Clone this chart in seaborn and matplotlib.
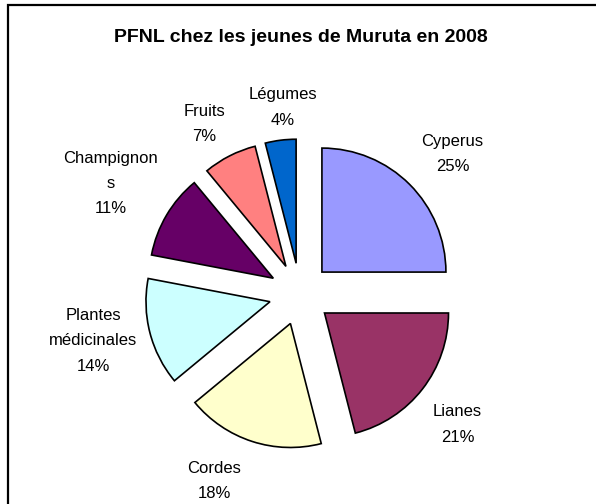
import matplotlib
matplotlib.use("Agg")
import matplotlib.pyplot as plt
from matplotlib.patches import Rectangle
import numpy as np
import seaborn as sns

# PFNL collected by young people in Muruta, 2008 (percent)
categories = ["Cyperus", "Lianes", "Cordes", "Plantes\nmédicinales",
              "Champignon\ns", "Fruits", "Légumes"]
values = [25, 21, 18, 14, 11, 7, 4]
colors = ["#9999FF", "#993366", "#FFFFCC", "#CCFFFF", "#660066", "#FF8080", "#0066CC"]
title = "PFNL chez les jeunes de Muruta en 2008"

sns.set_theme(style="white")
plt.rcParams['font.family'] = ['Liberation Sans', 'DejaVu Sans']
plt.rcParams['text.color'] = 'black'

fig = plt.figure(figsize=(5.96, 5.04), dpi=100)
ax = fig.add_axes([0, 0, 1, 1])

explode = 0.25
labels = [c + "\n" + str(v) + "%" for c, v in zip(categories, values)]
wedges, texts = ax.pie(values, labels=labels, colors=sns.color_palette(colors),
                       startangle=90, counterclock=False,
                       explode=[explode] * len(values), labeldistance=1.42,
                       wedgeprops=dict(edgecolor="black", linewidth=1.2),
                       textprops=dict(fontsize=12, ha="center", va="center",
                                      linespacing=1.85, color="black"))

# excel-like label placement: (distance, angle nudge in degrees)
label_pos = {"Cyperus": (1.42, -2.5), "Lianes": (1.40, -1.8), "Cordes": (1.41, -6.7),
             "Plantes\nmédicinales": (1.46, -1.6), "Champignon\ns": (1.52, 0.3),
             "Fruits": (1.32, 2.4), "Légumes": (1.26, -2.0)}
for w, t, c in zip(wedges, texts, categories):
    r, nudge = label_pos[c]
    th = np.deg2rad((w.theta1 + w.theta2) / 2 + nudge)
    t.set_position(((explode + r) * np.cos(th), (explode + r) * np.sin(th)))

ax.set_aspect("auto")
ax.set_xlim(-300 / 124, 296 / 124)
ax.set_ylim(-210 / 124, 294 / 124)
ax.axis("off")

fig.text(301 / 596, 1 - 38 / 504, title, ha="center", va="center",
         fontsize=14, fontweight="bold", color="black")

fig.patches.append(Rectangle((8 / 596, -0.1), 1.2, 1.1 - 5 / 504,
                             transform=fig.transFigure, fill=False,
                             edgecolor="black", linewidth=1.6))

plt.savefig("out.png", dpi=100, facecolor="white")
